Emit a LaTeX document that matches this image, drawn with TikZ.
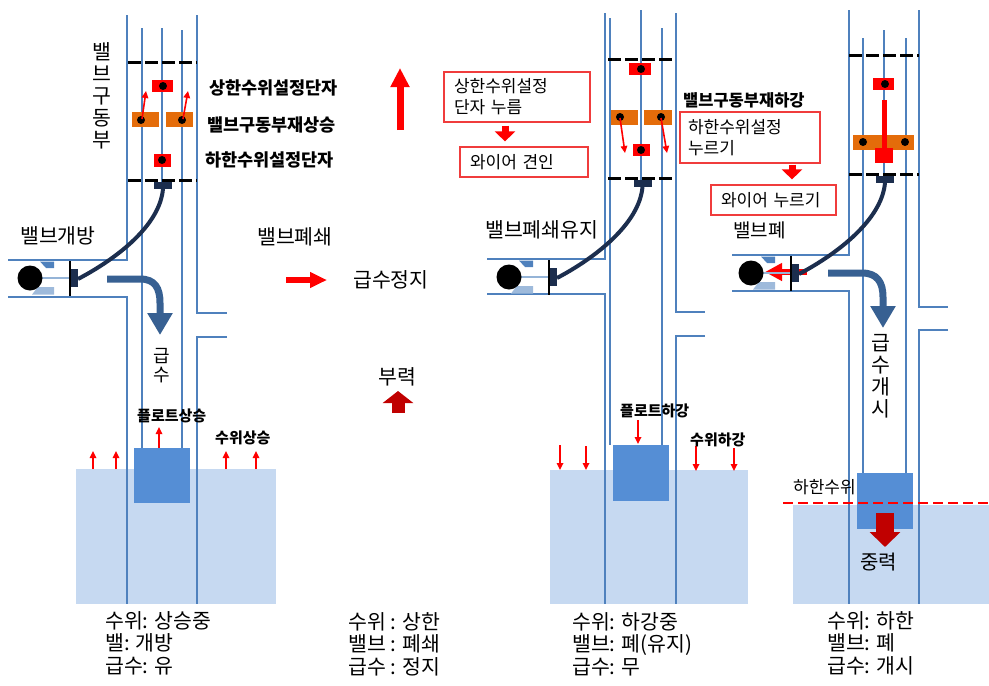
\documentclass[tikz,border=0pt]{standalone}
\usepackage{fontspec}
\setmainfont{Noto Sans CJK KR}
\usetikzlibrary{arrows.meta,calc}
\definecolor{tubeblue}{HTML}{4F81BD}
\definecolor{waterblue}{HTML}{C6D9F1}
\definecolor{floatblue}{HTML}{558ED5}
\definecolor{flowblue}{HTML}{376092}
\definecolor{wirenavy}{HTML}{1C2E4E}
\definecolor{termorange}{HTML}{E46C0A}
\definecolor{darkred}{HTML}{C00000}
\definecolor{boxred}{HTML}{F03C3C}
% ball valve: left end of pipe, top of pipe, name of stem point
\def\valve(#1,#2)#3{%
  \begin{scope}[shift={(#1,#2)}]
    \fill[tubeblue] (32,1.5) -- (46,1.5) -- (46,8) -- (38,8) -- cycle;
    \fill[tubeblue!55] (30,27) -- (46,27) -- (46,34.5) -- (24,34.5) -- cycle;
    \draw[tubeblue!60, line width=1.5pt] (22,18) -- (62,18);
    \fill (22,18) circle (12.5pt);
    \draw[line width=2pt] (62,1) -- (62,36);
    \fill[wirenavy] (63,9) rectangle (70,27);
    \coordinate (#3) at (70,19);
  \end{scope}}

\begin{document}
\begin{tikzpicture}[x=1pt,y=-1pt,
  tube/.style={draw=tubeblue, line width=2.8pt},
  rail/.style={draw=tubeblue, line width=2.4pt},
  level/.style={line width=3pt, dash pattern=on 13pt off 4pt},
  wire/.style={draw=wirenavy, line width=4pt},
  joint/.style={fill=wirenavy, minimum width=18pt, minimum height=7pt, inner sep=0pt},
  flow/.style={draw=flowblue, line width=7pt, -{Triangle[width=24pt,length=22pt]}},
  lift/.style={red, line width=1.6pt, -{Triangle[width=6.5pt,length=7pt]}},
  push/.style={red, line width=7pt, -{Triangle[width=20pt,length=10pt]}},
  lbl/.style={anchor=west, inner sep=0pt, font=\fontsize{17.5}{20}\selectfont\bfseries},
  small/.style={anchor=west, inner sep=0pt, font=\fontsize{15}{18}\selectfont\bfseries},
  txt/.style={anchor=west, inner sep=0pt, font=\fontsize{20.5}{24}\selectfont},
  vtxt/.style={inner sep=0pt, align=center, font=\fontsize{20.5}{22}\selectfont},
  status/.style={anchor=north west, inner sep=0pt, align=left, font=\fontsize{20.5}{22.5}\selectfont},
  note/.style={draw=boxred, line width=1.2pt, align=left, inner xsep=10pt, font=\fontsize{17}{21}\selectfont},
]
\useasboundingbox (0,0) rectangle (989,686);

%%%%% water and floats %%%%%
\fill[waterblue] (76,469) rectangle (276,604);
\fill[waterblue] (550,470) rectangle (748,604);
\fill[waterblue] (793,505) rectangle (989,604);
\fill[floatblue] (134,448) rectangle (190,503);
\fill[floatblue] (613,445) rectangle (669,501);
\fill[floatblue] (857,473) rectangle (913,529);

%%%%% rising: valve open %%%%%
\draw[tube] (127,15) -- (127,260) -- (8,260);
\draw[tube] (8,297) -- (127,297) -- (127,604);
\draw[tube] (197,15) -- (197,313) -- (227,313);
\draw[tube] (227,337) -- (197,337) -- (197,604);
\draw[rail] (142,28) -- (142,448);
\draw[rail] (182,30) -- (182,448);
\draw[rail] (162,28) -- (162,182);
\draw[level] (128,62) -- (197,62);
\draw[level] (128,180) -- (197,180);

\fill[red] (152,80) rectangle (173,92);
\fill[termorange] (132,112) rectangle (159,127);
\fill[termorange] (166,112) rectangle (193,127);
\fill[red] (154,154) rectangle (171,167);
\fill (163,86) circle (4pt);
\fill (141,120) circle (4pt);
\fill (182,120) circle (4pt);
\fill (162,160) circle (4pt);
\draw[lift] (142,119) -- (146,91);
\draw[lift] (183,119) -- (188,91);

\node[joint] (top1) at (163,185) {};
\valve(8,260){stem1}
\draw[wire] (top1.south) .. controls +(-3,37) and +(38,-20) .. (stem1);
\draw[flow] (107,279) -- (140,279) .. controls (155,279) and (160,288) .. (160,303) -- (160,335);

\draw[lift] (159,448) -- (159,427);
\foreach \x in {93,116,226,256}
  \draw[lift] (\x,469) -- (\x,451);

\node[vtxt] (drive1) at (102,96) {밸\\브\\구\\동\\부};
\node[lbl] (up1) at (209,88) {상한수위설정단자};
\node[lbl] (move1) at (207,125) {밸브구동부재상승};
\node[lbl] (low1) at (205,160) {하한수위설정단자};
\node[txt] (open1) at (20,236) {밸브개방};
\node[vtxt, font=\fontsize{18}{19}\selectfont] (feed1) at (162,366) {급\\수};
\node[small] (floatup1) at (137,416) {플로트상승};
\node[small] (rise1) at (215,438) {수위상승};
\node[status] (state1) at (105,611) {수위: 상승중\\밸: 개방\\급수: 유};

%%%%% full: valve closing %%%%%
\draw[red, line width=7pt, -{Triangle[width=18pt,length=19pt]}] (400,130) -- (400,68);
\node[txt] (close2) at (257,237) {밸브폐쇄};
\draw[red, line width=6pt, -{Triangle[width=15pt,length=17pt]}] (286,280) -- (327,280);
\node[txt] (stop2) at (353,280) {급수정지};
\node[txt] (buoy2) at (378,377) {부력};
\draw[darkred, line width=13pt, -{Triangle[width=30pt,length=12pt]}] (398,413) -- (398,391);
\node[status] (state2) at (348,612) {수위 : 상한\\밸브 : 폐쇄\\급수 : 정지};

\node[note, text width=126pt, minimum height=50pt] (press2) at (517,97) {상한수위설정\\단자 누름};
\node[note, text width=108pt, minimum height=30pt] (pull2) at (524,162) {와이어 견인};
\draw[push] ($(press2.south)+(-12,3)$) -- ($(pull2.north)+(-19,-5)$);

%%%%% falling: valve held closed %%%%%
\draw[tube] (605,13) -- (605,259) -- (487,259);
\draw[tube] (487,294) -- (605,294) -- (605,604);
\draw[tube] (676,13) -- (676,312) -- (705,312);
\draw[tube] (705,336) -- (676,336) -- (676,604);
\draw[rail] (610,18) -- (610,445);
\draw[rail] (662,28) -- (662,445);
\draw[rail] (641,10) -- (641,180);
\draw[level] (608,59) -- (675,59);
\draw[level] (608,178) -- (675,178);

\fill[red] (629,63) rectangle (651,75);
\fill[termorange] (611,110) rectangle (638,125);
\fill[termorange] (644,110) rectangle (672,125);
\fill[red] (633,144) rectangle (650,156);
\fill (641,69) circle (4pt);
\fill (620,117) circle (4pt);
\fill (661,117) circle (4pt);
\fill (641,150) circle (4pt);
\draw[lift] (620,118) -- (625,153);
\draw[lift] (661,118) -- (667,153);

\node[joint] (top3) at (642.5,183) {};
\valve(487,259){stem3}
\draw[wire] (top3.south) .. controls +(-3,37) and +(38,-20) .. (stem3);

\draw[lift] (638,420) -- (638,444);
\draw[lift] (560,445) -- (560,470);
\draw[lift] (586,446) -- (586,470);
\draw[lift] (696,446) -- (696,471);
\draw[lift] (734,448) -- (734,471);

\node[txt] (hold3) at (485,230) {밸브폐쇄유지};
\node[lbl, font=\fontsize{16.5}{19}\selectfont\bfseries] (move3) at (683,100) {밸브구동부재하강};
\node[small] (floatdn3) at (620,411) {플로트하강};
\node[small] (fall3) at (690,440) {수위하강};
\node[status] (state3) at (572,612) {수위: 하강중\\밸브: 폐(유지)\\급수: 무};

\node[note, text width=124pt, minimum height=51pt, inner xsep=8pt] (press3) at (750,137.5) {하한수위설정\\누르기};
\node[note, text width=105pt, minimum height=30pt] (shove3) at (773.5,200) {와이어 누르기};
\draw[push] ($(press3.south)+(42,1)$) -- ($(shove3.north)+(18.5,-5)$);

%%%%% empty: valve open again %%%%%
\draw[tube] (849,10) -- (849,255) -- (732,255);
\draw[tube] (732,291) -- (849,291) -- (849,604);
\draw[tube] (919,10) -- (919,307) -- (948,307);
\draw[tube] (948,330) -- (919,330) -- (919,604);
\draw[rail] (863,38) -- (863,473);
\draw[rail] (906,38) -- (906,473);
\draw[rail] (884,30) -- (884,175);
\draw[level] (849,55) -- (919,55);
\draw[level] (849,174) -- (919,174);

\fill[red] (873,78) rectangle (894,90);
\fill (885,84) circle (4pt);
\fill[termorange] (853,135) rectangle (914,150);
\fill (863,142) circle (4pt);
\fill (905,142) circle (4pt);
\fill[red] (882,100) rectangle (887,150);
\fill[red] (875,148) rectangle (893,163);

\node[joint] (top4) at (885,179) {};
\draw[red, line width=6pt, -{Triangle[width=17pt,length=17pt]}] (807,272) -- (765,272);
\valve(729,255){stem4}
\draw[wire] (top4.south) .. controls +(-3,37) and +(38,-20) .. (stem4);
\draw[flow] (828,273) -- (862,273) .. controls (877,273) and (883,282) .. (883,297) -- (883,328);

\draw[red, line width=2.5pt, dash pattern=on 10pt off 5pt] (783,503) -- (989,503);
\draw[darkred, line width=18pt, -{Triangle[width=30pt,length=15pt]}] (885,513) -- (885,547);

\node[txt, font=\fontsize{19}{22}\selectfont] (shut4) at (733,230) {밸브폐};
\node[vtxt] (feed4) at (881,376) {급\\수\\개\\시};
\node[txt, font=\fontsize{17}{20}\selectfont] (min4) at (793,487) {하한수위};
\node[txt, font=\fontsize{20}{22}\selectfont] (grav4) at (860,562) {중력};
\node[status] (state4) at (827,611) {수위: 하한\\밸브: 폐\\급수: 개시};
\end{tikzpicture}
\end{document}
